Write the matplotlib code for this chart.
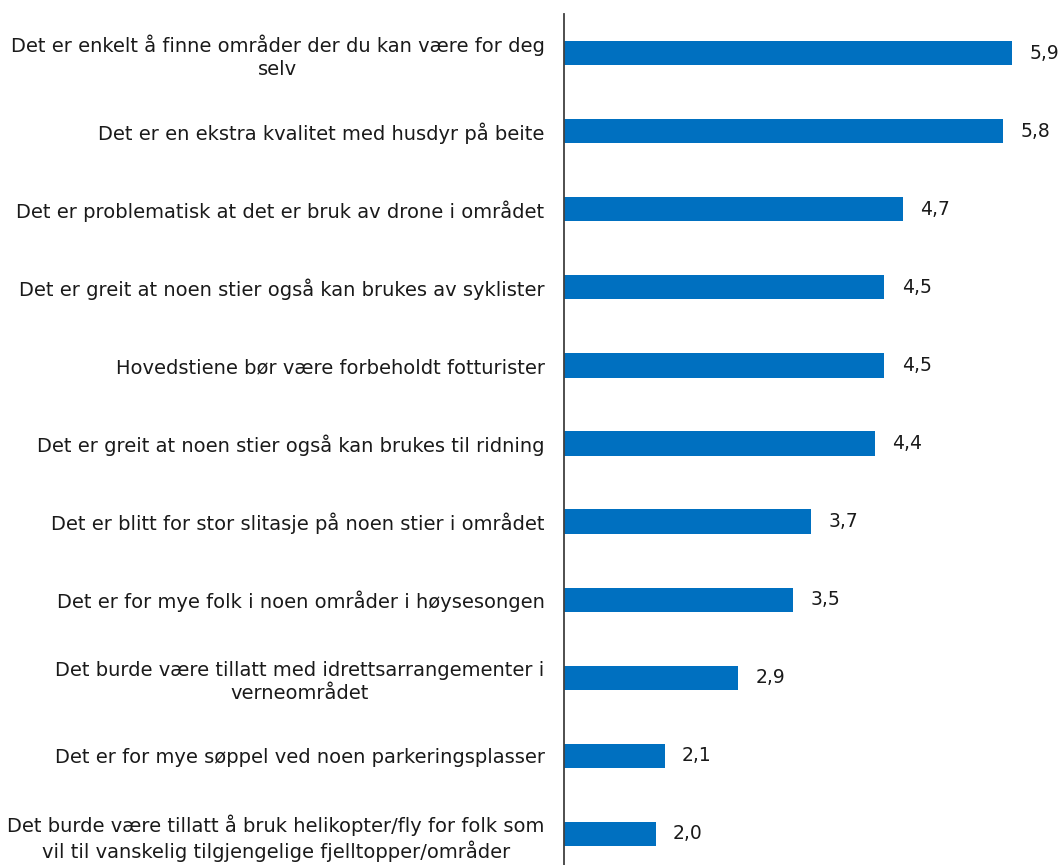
import matplotlib
matplotlib.use("Agg")
import matplotlib.pyplot as plt

labels = [
    "Det er enkelt å finne områder der du kan være for deg\nselv",
    "Det er en ekstra kvalitet med husdyr på beite",
    "Det er problematisk at det er bruk av drone i området",
    "Det er greit at noen stier også kan brukes av syklister",
    "Hovedstiene bør være forbeholdt fotturister",
    "Det er greit at noen stier også kan brukes til ridning",
    "Det er blitt for stor slitasje på noen stier i området",
    "Det er for mye folk i noen områder i høysesongen",
    "Det burde være tillatt med idrettsarrangementer i\nverneområdet",
    "Det er for mye søppel ved noen parkeringsplasser",
    "Det burde være tillatt å bruk helikopter/fly for folk som\nvil til vanskelig tilgjengelige fjelltopper/områder",
]
values = [5.9, 5.8, 4.7, 4.5, 4.5, 4.4, 3.7, 3.5, 2.9, 2.1, 2.0]

plt.rcParams['font.family'] = ['DejaVu Sans']

W, H = 1060, 865
fig = plt.figure(figsize=(W / 100, H / 100), dpi=100)
# axes: left edge at the vertical axis line, runs off the bottom a little
ax = fig.add_axes([564 / W, 1 - 873 / H, 1 - 564 / W, (873 - 14) / H])

ypos = list(range(len(values)))
ax.barh(ypos, [v - 1 for v in values], left=1, height=0.31, color='#0070C0')
ax.set_ylim(len(values) - 0.5, -0.5)
ax.set_xlim(1, 1 + (W - 564) / 91.5)

for y, v in zip(ypos, values):
    ax.annotate(f"{v:.1f}".replace('.', ','), (v, y), xytext=(12.5, 0),
                textcoords='offset points', va='center', ha='left',
                fontsize=13.5, color='#1a1a1a')

ax.set_yticks(ypos)
ax.set_yticklabels(labels, fontsize=14, multialignment='center',
                   linespacing=1.25, color='#1a1a1a')
ax.tick_params(axis='y', length=0, pad=14)
ax.set_xticks([])

for s in ['top', 'right', 'bottom']:
    ax.spines[s].set_visible(False)
ax.spines['left'].set_color('#404040')
ax.spines['left'].set_linewidth(1.3)

fig.savefig('out.png', dpi=100)
